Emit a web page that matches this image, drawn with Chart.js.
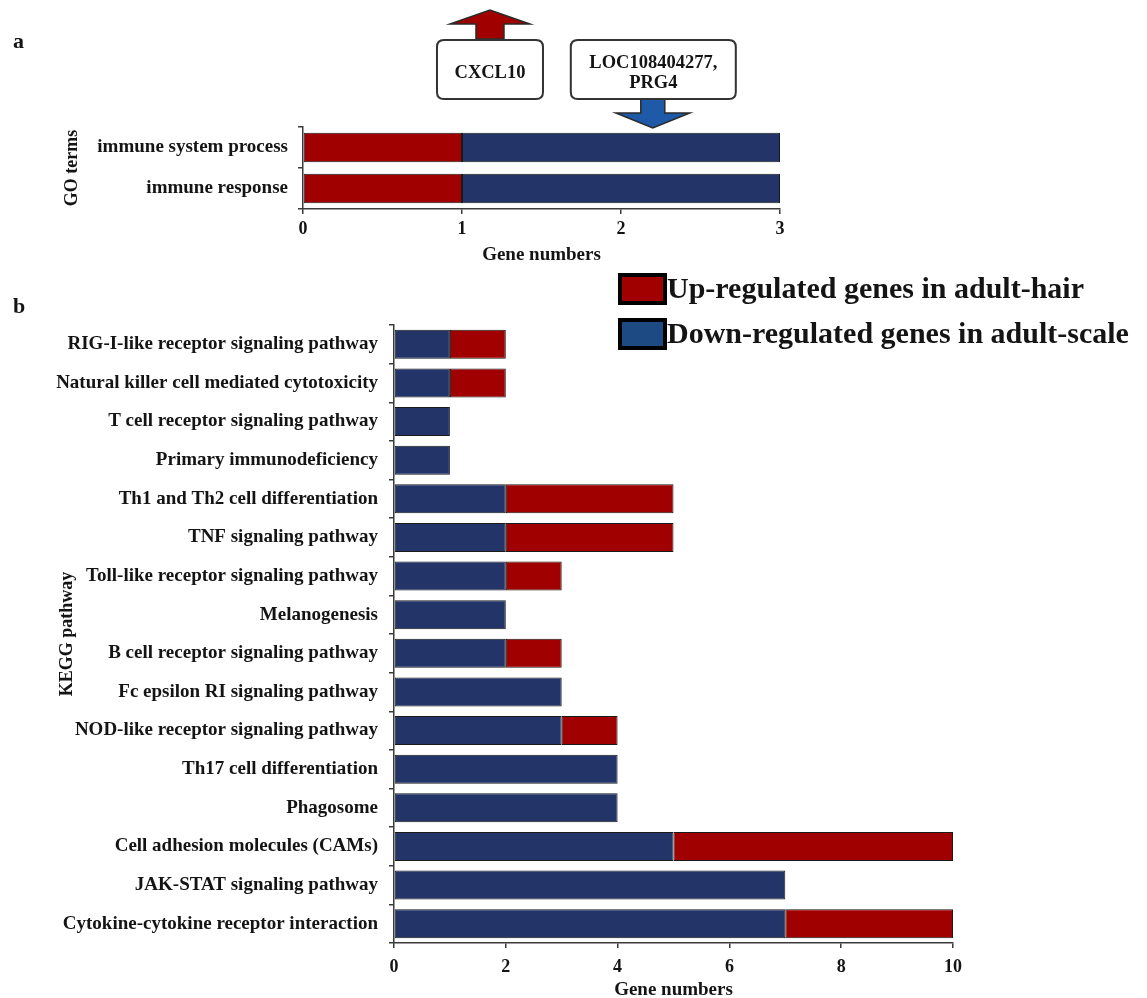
<!DOCTYPE html>
<html>
<head>
<meta charset="utf-8">
<script src="https://cdn.jsdelivr.net/npm/chart.js@4/dist/chart.umd.min.js"></script>
<style>
  html, body { margin: 0; padding: 0; background: #ffffff; }
  #wrap { position: relative; width: 1147px; height: 998px; overflow: hidden; }
  canvas { position: absolute; left: 0; }
  #goChart { top: 0; }
  #keggChart { top: 262px; }
</style>
</head>
<body>
<div id="wrap">
  <canvas id="goChart" width="1147" height="262"></canvas>
  <canvas id="keggChart" width="1147" height="736"></canvas>
</div>
<script>
// ---- Panel a: GO terms ----
const goTerms = ['immune system process', 'immune response'];
const goUp = [1, 1];
const goDown = [2, 2];
const goTicks = [0, 1, 2, 3];

// ---- Panel b: KEGG pathways ----
const keggPathways = [
  'RIG-I-like receptor signaling pathway',
  'Natural killer cell mediated cytotoxicity',
  'T cell receptor signaling pathway',
  'Primary immunodeficiency',
  'Th1 and Th2 cell differentiation',
  'TNF signaling pathway',
  'Toll-like receptor signaling pathway',
  'Melanogenesis',
  'B cell receptor signaling pathway',
  'Fc epsilon RI signaling pathway',
  'NOD-like receptor signaling pathway',
  'Th17 cell differentiation',
  'Phagosome',
  'Cell adhesion molecules (CAMs)',
  'JAK-STAT signaling pathway',
  'Cytokine-cytokine receptor interaction'
];
const keggDown = [1, 1, 1, 1, 2, 2, 2, 2, 2, 3, 3, 4, 4, 5, 7, 7];
const keggUp   = [1, 1, 0, 0, 3, 3, 1, 0, 1, 0, 1, 0, 0, 5, 0, 3];
const keggTicks = [0, 2, 4, 6, 8, 10];

// annotation gene names
const upGenes = ['CXCL10'];
const downGenes = ['LOC108404277,', 'PRG4'];

// legend entries
const legendUpText = 'Up-regulated genes in adult-hair';
const legendDownText = 'Down-regulated genes in adult-scale';

const RED = '#a00000';
const NAVY = '#233468';
const LEGEND_BLUE = '#1d4a82';
const ARROW_BLUE = '#1f5aa8';
const AXIS = '#3a3a3a';
const TEXT = '#141414';
const SERIF = "'Liberation Serif', 'Times New Roman', serif";

function roundRect(ctx, x, y, w, h, r) {
  ctx.beginPath();
  ctx.moveTo(x + r, y);
  ctx.lineTo(x + w - r, y);
  ctx.quadraticCurveTo(x + w, y, x + w, y + r);
  ctx.lineTo(x + w, y + h - r);
  ctx.quadraticCurveTo(x + w, y + h, x + w - r, y + h);
  ctx.lineTo(x + r, y + h);
  ctx.quadraticCurveTo(x, y + h, x, y + h - r);
  ctx.lineTo(x, y + r);
  ctx.quadraticCurveTo(x, y, x + r, y);
  ctx.closePath();
}

// block arrow with shaft half-width sw and head half-width hw
function blockArrow(ctx, cx, yBase, yTip, sw, hw, headLen, fill) {
  const dir = yTip > yBase ? 1 : -1;
  const yHead = yTip - dir * headLen;
  ctx.beginPath();
  ctx.moveTo(cx - sw, yBase);
  ctx.lineTo(cx - sw, yHead);
  ctx.lineTo(cx - hw, yHead);
  ctx.lineTo(cx, yTip);
  ctx.lineTo(cx + hw, yHead);
  ctx.lineTo(cx + sw, yHead);
  ctx.lineTo(cx + sw, yBase);
  ctx.closePath();
  ctx.fillStyle = fill;
  ctx.fill();
  ctx.lineWidth = 1.5;
  ctx.strokeStyle = '#2a2a2a';
  ctx.stroke();
}

function geneBox(ctx, x, y, w, h, lines, lineGap) {
  roundRect(ctx, x, y, w, h, 7);
  ctx.fillStyle = '#ffffff';
  ctx.fill();
  ctx.lineWidth = 2;
  ctx.strokeStyle = '#333333';
  ctx.stroke();
  ctx.fillStyle = TEXT;
  ctx.font = 'bold 18.5px ' + SERIF;
  ctx.textAlign = 'center';
  ctx.textBaseline = 'middle';
  const cy = y + h / 2 + 4;
  lines.forEach((t, i) => {
    ctx.fillText(t, x + w / 2, cy + (i - (lines.length - 1) / 2) * lineGap);
  });
}

const goAnnotations = {
  id: 'goAnnotations',
  afterDraw(chart) {
    const ctx = chart.ctx;
    const xs = chart.scales.x;
    const top = chart.chartArea.top;
    ctx.save();
    // panel letter
    ctx.fillStyle = TEXT;
    ctx.font = 'bold 22px ' + SERIF;
    ctx.textAlign = 'left';
    ctx.textBaseline = 'alphabetic';
    ctx.fillText('a', 13, 48);

    // up-regulated gene box with upward arrow
    const upX = xs.getPixelForValue(1.176);
    blockArrow(ctx, upX, top - 88, top - 117, 14, 40, 14, RED);
    geneBox(ctx, upX - 53, top - 87, 106, 59, upGenes, 0);

    // down-regulated gene box with downward arrow
    const downX = xs.getPixelForValue(2.2);
    blockArrow(ctx, downX, top - 29, top + 1, 12, 37, 15, ARROW_BLUE);
    geneBox(ctx, downX - 82, top - 87, 165, 59, downGenes, 20);
    ctx.restore();
  }
};

const keggExtras = {
  id: 'keggExtras',
  afterDraw(chart) {
    const ctx = chart.ctx;
    ctx.save();
    ctx.fillStyle = TEXT;
    ctx.font = 'bold 22px ' + SERIF;
    ctx.textAlign = 'left';
    ctx.textBaseline = 'alphabetic';
    ctx.fillText('b', 13, 51);

    // legend
    const entries = [
      { text: legendUpText, color: RED, y: 13 },
      { text: legendDownText, color: LEGEND_BLUE, y: 58 }
    ];
    entries.forEach(e => {
      ctx.fillStyle = e.color;
      ctx.fillRect(620, e.y, 45, 28);
      ctx.lineWidth = 4;
      ctx.strokeStyle = '#000000';
      ctx.strokeRect(620, e.y, 45, 28);
      ctx.fillStyle = TEXT;
      ctx.font = 'bold 30px ' + SERIF;
      ctx.textBaseline = 'middle';
      ctx.fillText(e.text, 667, e.y + 15);
    });
    ctx.restore();
  }
};

const tickFont = { family: SERIF, size: 18, weight: 'bold' };
const catFont = { family: SERIF, size: 19, weight: 'bold' };
const titleFont = { family: SERIF, size: 18, weight: 'bold', lineHeight: 1 };
const xTitleFont = { family: SERIF, size: 19, weight: 'bold', lineHeight: 1 };

function axisCommon(extra) {
  return Object.assign({
    stacked: true,
    border: { display: true, color: AXIS, width: 1.5 },
    grid: { display: true, drawOnChartArea: false, color: AXIS, lineWidth: 1.5, tickLength: 5 }
  }, extra);
}

Chart.defaults.font.family = SERIF;

new Chart(document.getElementById('goChart'), {
  type: 'bar',
  data: {
    labels: goTerms,
    datasets: [
      { label: legendUpText, data: goUp, backgroundColor: RED },
      { label: legendDownText, data: goDown, backgroundColor: NAVY }
    ]
  },
  options: {
    indexAxis: 'y',
    responsive: false,
    animation: false,
    devicePixelRatio: 1,
    layout: { padding: { left: 0, top: 127, right: 367, bottom: 0 } },
    datasets: { bar: { barPercentage: 0.72, categoryPercentage: 1, borderWidth: 1, borderColor: '#1a1a1a', borderSkipped: false } },
    plugins: { legend: { display: false }, tooltip: { enabled: false } },
    scales: {
      x: axisCommon({
        min: 0, max: 3,
        afterBuildTicks(s) { s.ticks = goTicks.map(v => ({ value: v })); },
        afterFit(s) { s.height = 53; },
        ticks: { color: TEXT, font: tickFont, padding: 5 },
        title: { display: true, text: 'Gene numbers', color: TEXT, padding: { top: 0, bottom: -3 }, font: xTitleFont }
      }),
      y: axisCommon({
        afterFit(s) { s.width = 303; },
        ticks: { color: TEXT, font: catFont, padding: 10 },
        title: { display: true, text: 'GO terms', color: TEXT, padding: { top: 63, bottom: 0 }, font: titleFont }
      })
    }
  },
  plugins: [goAnnotations]
});

new Chart(document.getElementById('keggChart'), {
  type: 'bar',
  data: {
    labels: keggPathways,
    datasets: [
      { label: legendDownText, data: keggDown, backgroundColor: NAVY },
      { label: legendUpText, data: keggUp, backgroundColor: RED }
    ]
  },
  options: {
    indexAxis: 'y',
    responsive: false,
    animation: false,
    devicePixelRatio: 1,
    layout: { padding: { left: 0, top: 63, right: 194, bottom: 0 } },
    datasets: { bar: { barPercentage: 0.75, categoryPercentage: 1, borderWidth: 1, borderColor: '#1a1a1a', borderSkipped: false } },
    plugins: { legend: { display: false }, tooltip: { enabled: false } },
    scales: {
      x: axisCommon({
        min: 0, max: 10,
        afterBuildTicks(s) { s.ticks = keggTicks.map(v => ({ value: v })); },
        afterFit(s) { s.height = 55; },
        ticks: { color: TEXT, font: tickFont, padding: 9 },
        title: { display: true, text: 'Gene numbers', color: TEXT, padding: { top: 0, bottom: -2 }, font: xTitleFont }
      }),
      y: axisCommon({
        afterFit(s) { s.width = 394; },
        ticks: { color: TEXT, font: catFont, padding: 11 },
        title: { display: true, text: 'KEGG pathway', color: TEXT, padding: { top: 58, bottom: 0 }, font: titleFont }
      })
    }
  },
  plugins: [keggExtras]
});
</script>
</body>
</html>
